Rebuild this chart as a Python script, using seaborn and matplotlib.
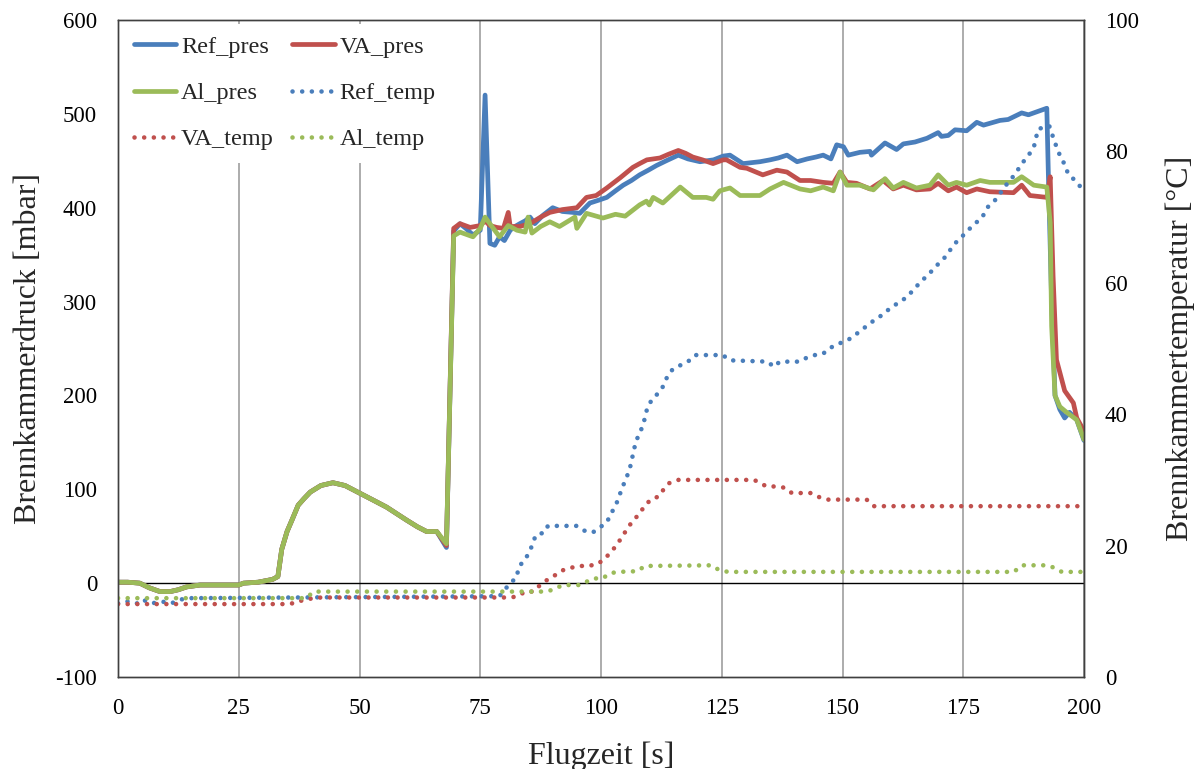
import matplotlib
matplotlib.use("Agg")
import matplotlib.pyplot as plt
import seaborn as sns

# ---------------- data ----------------
early_t = [0, 2, 4.5, 6.5, 8.7, 10.8, 12.5, 14.2, 17, 20, 25, 26, 29, 32, 33.1, 33.9, 35, 36,
           37.3, 38.5, 39.8, 42, 44.5, 47, 50, 53, 55.6, 58, 59.8, 62, 63.9, 66]
early_p = [1, 1, 0, -5, -9, -9, -7, -4, -2, -2, -2, 0, 1, 4, 7, 36, 55, 67,
           83, 90, 97, 104, 107, 104, 96, 88, 81, 73, 67, 60, 55, 55]

ref_t = early_t + [68, 69.5, 70.8, 72, 73.5, 75, 76, 77, 78, 79, 80, 81.2, 82.2, 83.2, 84.3, 85.3, 86.3,
                   88, 90, 92, 94.2, 95.6, 97.7, 99.5, 101.2, 103, 104.6, 106.3, 108, 109.8, 111.5,
                   113.5, 116, 118, 120.5, 123.3, 125.3, 126.7, 129.4, 132.9, 135, 136.7, 138.5,
                   140.6, 142.7, 144.5, 146, 147.6, 148.8, 150.2, 151.2, 153.6, 155.7, 156, 158.8,
                   161.2, 162.6, 165, 167.5, 169.8, 170.5, 171.9, 173.3, 175.7, 177.8, 179.2, 182.6,
                   184.3, 187.1, 188.5, 192.3, 192.6, 193.3, 194, 195, 196, 197, 198.5, 200]
ref_p = early_p + [38, 375, 383, 378, 371, 376, 520, 362, 360, 369, 365, 376, 380, 383, 386, 390, 383,
                   392, 400, 396, 395, 394, 405, 408, 411, 418, 424, 429, 435, 440, 445,
                   450, 456, 452, 449, 451, 455, 456, 447, 449, 451, 453, 456,
                   449, 452, 454, 456, 452, 467, 465, 456, 459, 460, 456, 469,
                   462, 468, 470, 474, 480, 476, 477, 483, 482, 491, 488, 493,
                   494, 501, 499, 506, 440, 300, 200, 185, 176, 182, 174, 152]

va_t = early_t + [68, 69.5, 70.8, 72.9, 75, 76, 77, 78.4, 79.8, 80.8, 81.2, 83.2, 85.3, 87.5, 89.4, 92,
                  95, 97, 99, 101.2, 104, 106.6, 108, 109.5, 112.2, 114, 116, 117.5, 119, 121, 123.2,
                  125.3, 126, 128.8, 130.2, 133.5, 136.4, 138.5, 141.2, 143.4, 146, 148.1, 149.5,
                  150.9, 152.9, 155.7, 158.4, 160.5, 162.6, 165.3, 168.1, 169.8, 171.9, 173.6, 175.7,
                  177.8, 180.5, 185.4, 187.1, 188.8, 192.3, 193, 193.6, 194.3, 196, 197.8, 198.5, 200]
va_p = early_p + [40, 378, 383, 379, 381, 386, 381, 379, 378, 395, 380, 380, 383, 390, 395, 398,
                  400, 411, 413, 421, 432, 443, 447, 451, 453, 457, 461, 458, 454, 451, 447,
                  451, 451, 443, 442, 435, 440, 438, 429, 429, 427, 426, 438,
                  427, 426, 420, 429, 420, 424, 419, 420, 426, 418, 422, 416,
                  420, 417, 416, 424, 413, 411, 433, 327, 238, 205, 192, 176, 162]

a1_t = early_t + [68, 69.5, 70.8, 73.5, 75, 76, 77.7, 79, 80.8, 82.6, 84.3, 84.9, 85.7, 87.5, 89.4,
                  91.4, 94.6, 95, 97, 100.4, 103, 105, 108, 109.4, 110, 110.8, 112.8, 116.4, 119,
                  121.8, 123.2, 124.6, 126.7, 128.8, 131, 132.9, 135, 137.8, 141.2, 143.4, 146, 148.1,
                  149.5, 150.9, 153.6, 156.4, 158.8, 160.5, 162.6, 165.3, 168.1, 169.8, 171.9, 173.6,
                  175.7, 178.5, 180.5, 185.4, 187.1, 189.6, 192.3, 193, 193.3, 194, 195, 196.4,
                  198.5, 200]
a1_p = early_p + [42, 370, 374, 369, 378, 390, 378, 369, 381, 376, 374, 390, 373, 380, 385,
                  380, 390, 378, 394, 389, 393, 391, 403, 407, 403, 411, 405, 422, 411,
                  411, 409, 418, 421, 413, 413, 413, 420, 427, 420, 418, 422, 418,
                  438, 424, 424, 419, 431, 421, 427, 421, 424, 435, 424, 427,
                  424, 429, 427, 427, 433, 424, 422, 384, 274, 200, 188, 182,
                  174, 153]

ref_temp_t = [0, 2, 4, 5, 7, 9, 11, 13, 15, 79, 81.2, 82.5, 83, 84.3, 85.3, 86.5, 88.3, 89, 90.8,
              94.9, 96.4, 98.3, 99.8, 101.2, 102, 103, 104.4, 105.9, 107.2, 108.7, 109.6, 110.6,
              112, 113, 113.7, 114.8, 116.3, 118, 119.5, 125.2, 126.7, 134.5, 135.8, 137, 141,
              142.6, 144.3, 146, 147, 148.5, 150.1, 151.6, 153.4, 156, 158, 160, 163.3, 166,
              168.1, 169.6, 171, 173.3, 174.7, 176, 177.4, 178.9, 179.9, 181.9, 183, 184.3,
              185.6, 187.2, 188.5, 189.6, 190.5, 192.8, 194, 195, 196, 196.7, 198.1, 200]
ref_temp = [11.2, 11.5, 11.2, 11.8, 11.2, 11.5, 11.2, 11.8, 12, 12.3, 14.3, 15.1, 16.8, 17.9, 19.2,
            21.6, 22, 23, 23, 23, 22.3, 22, 22.8, 23.5, 24.8, 26, 28.8, 31.5, 35.8, 38.3, 41,
            42.3, 43.3, 44.4, 45.7, 46.8, 47.4, 48, 49, 49, 48.2, 48, 47.2, 48, 48, 48.6, 49,
            49.2, 49.9, 50.5, 51, 51.5, 52.5, 54, 55, 56.2, 57.8, 60, 61.5, 62.7, 63.7, 66, 67,
            68, 69, 69.9, 71.4, 72.8, 74, 75.3, 76.4, 78.2, 79.4, 80.6, 83.4, 83.9, 81.3, 79.4,
            78, 76.6, 75.6, 74]

va_temp_t = [0, 35, 37, 38.5, 42, 81.5, 83, 84.3, 86, 87.4, 88.7, 90.3, 91.9, 93.6, 95.5, 97.4,
             99.3, 100.8, 102, 103.3, 104.3, 105.4, 106.4, 107.9, 109, 110.3, 112, 113, 114.1,
             116, 131.7, 133, 134.3, 136.3, 138.1, 139.5, 143.4, 145.1, 146.9, 155, 156.5, 200]
va_temp = [11.1, 11.1, 11.3, 11.8, 12.1, 12.1, 12.4, 13, 13, 14, 14.7, 15.4, 16.2, 16.6, 16.9,
           16.9, 17.2, 18, 19, 20.1, 21.3, 22.5, 23.6, 24.8, 26, 27, 27.5, 28.6, 29.5, 30, 30,
           29.5, 29, 29, 28.8, 28, 28, 27.4, 27, 27, 26, 26]

a1_temp_t = [0, 39, 40.5, 86.8, 88.7, 90.5, 92, 95.8, 97, 98.4, 100.3, 101.9, 103.6, 107.5, 109.1,
             122.9, 124.4, 126.3, 185.5, 187.1, 192.5, 193.9, 195.4, 200]
a1_temp = [12, 12, 13, 13, 13, 13.4, 14, 14, 14.5, 15, 15, 15.8, 16, 16.1, 16.9, 17, 16.3, 16,
           16, 17, 17, 16.6, 16, 16]

x_ticks = [0, 25, 50, 75, 100, 125, 150, 175, 200]
y_ticks = [-100, 0, 100, 200, 300, 400, 500, 600]
y2_ticks = [0, 20, 40, 60, 80, 100]

BLUE, RED, GREEN = "#4a7ebb", "#c0504d", "#9bbb59"

# ---------------- style ----------------
sns.set_theme(style="white")
plt.rcParams["font.family"] = ["Liberation Serif", "DejaVu Serif"]
plt.rcParams["axes.unicode_minus"] = False

fig = plt.figure(figsize=(12.03, 7.69), dpi=100)
ax = fig.add_axes([118 / 1203, 1 - 677 / 769, (1084 - 118) / 1203, (677 - 20) / 769])
ax2 = ax.twinx()

LW = 3.4
sns.lineplot(x=ref_t, y=ref_p, ax=ax, color=BLUE, lw=LW, label="Ref_pres", sort=False)
sns.lineplot(x=va_t, y=va_p, ax=ax, color=RED, lw=LW, label="VA_pres", sort=False)
sns.lineplot(x=a1_t, y=a1_p, ax=ax, color=GREEN, lw=LW, label="Al_pres", sort=False)

dot = (0, (0.01, 2.1))
DLW = 3.3
sns.lineplot(x=ref_temp_t, y=ref_temp, ax=ax2, color=BLUE, lw=DLW, linestyle=dot,
             dash_capstyle="round", label="Ref_temp", sort=False)
sns.lineplot(x=va_temp_t, y=va_temp, ax=ax2, color=RED, lw=DLW, linestyle=dot,
             dash_capstyle="round", label="VA_temp", sort=False)
sns.lineplot(x=a1_temp_t, y=a1_temp, ax=ax2, color=GREEN, lw=DLW, linestyle=dot,
             dash_capstyle="round", label="Al_temp", sort=False)

for a in (ax, ax2):
    if a.get_legend() is not None:
        a.get_legend().remove()

ax.set_xlim(0, 200)
ax.set_ylim(-100, 600)
ax2.set_ylim(0, 100)
ax.set_xticks(x_ticks)
ax.set_yticks(y_ticks)
ax2.set_yticks(y2_ticks)

ax.xaxis.grid(True, color="#a6a6a6", lw=1.3)
ax.yaxis.grid(False)
ax2.grid(False)
ax.axhline(0, color="black", lw=1.0, zorder=1)

for a in (ax, ax2):
    for s in a.spines.values():
        s.set_color("#404040")
        s.set_linewidth(1.0)
    a.tick_params(length=0, labelsize=16.5, colors="black")
ax.tick_params(axis="x", pad=15)
ax.tick_params(axis="y", pad=15)
ax2.tick_params(axis="y", pad=15)

ax.set_xlabel("Flugzeit [s]", fontsize=23, labelpad=16)
ax.set_ylabel("Brennkammerdruck [mbar]", fontsize=23, labelpad=9)
ax2.set_ylabel("Brennkammertemperatur [°C]", fontsize=23, labelpad=19)

h1, l1 = ax.get_legend_handles_labels()
h2, l2 = ax2.get_legend_handles_labels()
d = dict(zip(l1 + l2, h1 + h2))
order = ["Ref_pres", "Al_pres", "VA_temp", "VA_pres", "Ref_temp", "Al_temp"]
leg = ax2.legend([d[k] for k in order], order, loc="upper left", ncol=2,
                 bbox_to_anchor=(0.0, 1.0), fontsize=17.5, frameon=True,
                 handlelength=1.75, handletextpad=0.2, columnspacing=0.75,
                 labelspacing=1.0, borderpad=0.5, borderaxespad=0.15)
leg.get_frame().set_facecolor("white")
leg.get_frame().set_edgecolor("none")
leg.get_frame().set_alpha(1.0)
leg.get_frame().set_boxstyle("square", pad=0)

fig.savefig("out.png", dpi=100)
